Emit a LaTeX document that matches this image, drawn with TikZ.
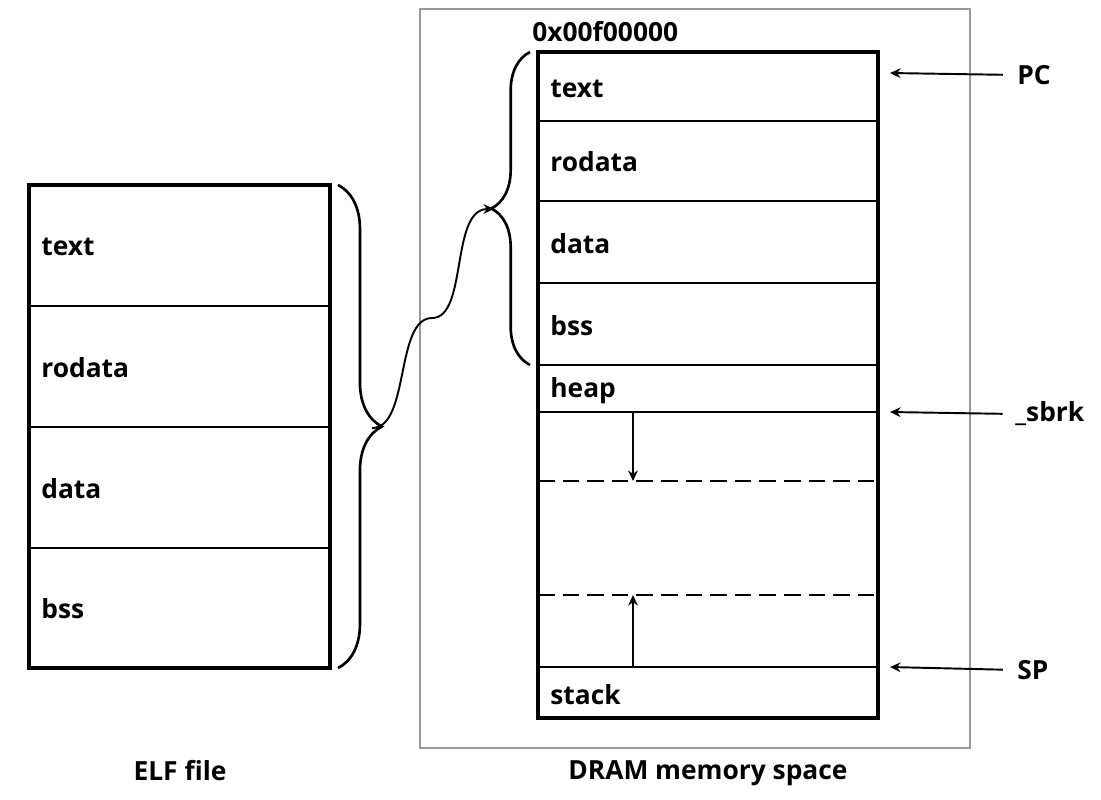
\documentclass[tikz,border=0pt]{standalone}
\usepackage{fontspec}
\setmainfont{Open Sans}
\usetikzlibrary{decorations.pathreplacing,arrows.meta}

\begin{document}
\begin{tikzpicture}[x=0.02cm,y=-0.02cm,
	lbl/.style={font=\bfseries\fontsize{15}{17}\selectfont, anchor=west, inner sep=0},
	ptr/.style={-{Stealth[length=6pt,width=5.5pt]}, line width=1.1pt},
	frame/.style={line width=1.8pt},
	gapline/.style={line width=1pt, dash pattern=on 9.5pt off 4.5pt}]
	\useasboundingbox (0,0) rectangle (1101,799);
	% ELF file
	\draw[frame] (29,185) rectangle (330,668);
	\foreach \y in {306,427,548} \draw[line width=0.7pt] (29,\y) -- (330,\y);
	\node[lbl] (elftext) at (41,247) {text};
	\node[lbl] (elfrodata) at (41,368) {rodata};
	\node[lbl] (elfdata) at (41,489) {data};
	\node[lbl] (elfbss) at (41,609) {bss};
	\node[lbl, anchor=center] (elfname) at (180,771) {ELF file};
	% DRAM
	\draw[black!40, line width=1.5pt] (420,9) rectangle (970,748);
	\draw[frame] (538,52) rectangle (878,718);
	\foreach \y in {121,201,283,365,412,667} \draw[line width=0.7pt] (538,\y) -- (878,\y);
	\draw[gapline] (538,481) -- (878,481);
	\draw[gapline] (538,595) -- (878,595);
	\node[lbl] (addr) at (532,32) {0x00f00000};
	\node[lbl] (memtext) at (550,89) {text};
	\node[lbl] (memrodata) at (550,162) {rodata};
	\node[lbl] (memdata) at (550,244) {data};
	\node[lbl] (membss) at (550,326) {bss};
	\node[lbl] (memheap) at (550,391) {heap};
	\node[lbl] (memstack) at (550,695) {stack};
	\node[lbl, anchor=center] (dramname) at (708,773) {DRAM memory space};
	% growth
	\coordinate (heaptop) at (633,412);
	\coordinate (heapend) at (633,481);
	\coordinate (stacktop) at (633,667);
	\coordinate (stackend) at (633,595);
	\draw[ptr] (heaptop) -- (heapend);
	\draw[ptr] (stacktop) -- (stackend);
	% pointers
	\node[lbl] (pc) at (1017,75) {PC};
	\node[lbl] (sbrk) at (1015,414) {\_sbrk};
	\node[lbl] (sp) at (1017,670) {SP};
	\coordinate (pcend) at (890,73);
	\coordinate (sbrkend) at (890,412);
	\coordinate (spend) at (890,667);
	\draw[ptr, shorten <=8pt] (pc.west) -- (pcend);
	\draw[ptr, shorten <=7pt] (sbrk.west) -- (sbrkend);
	\draw[ptr, shorten <=8pt] (sp.west) -- (spend);
	% braces
	\draw[line width=1.5pt, decorate, decoration={brace, amplitude=25pt}] (338,185) -- (338,668);
	\draw[line width=1.5pt, decorate, decoration={brace, amplitude=22pt}] (530,365) -- (530,52);
	\coordinate (elftip) at (372,428);
	\coordinate (memtip) at (494,209);
	\draw[ptr] (elftip) .. controls (410,428) and (395,318) .. (432,318) .. controls (468,318) and (450,209) .. (memtip);
\end{tikzpicture}
\end{document}
